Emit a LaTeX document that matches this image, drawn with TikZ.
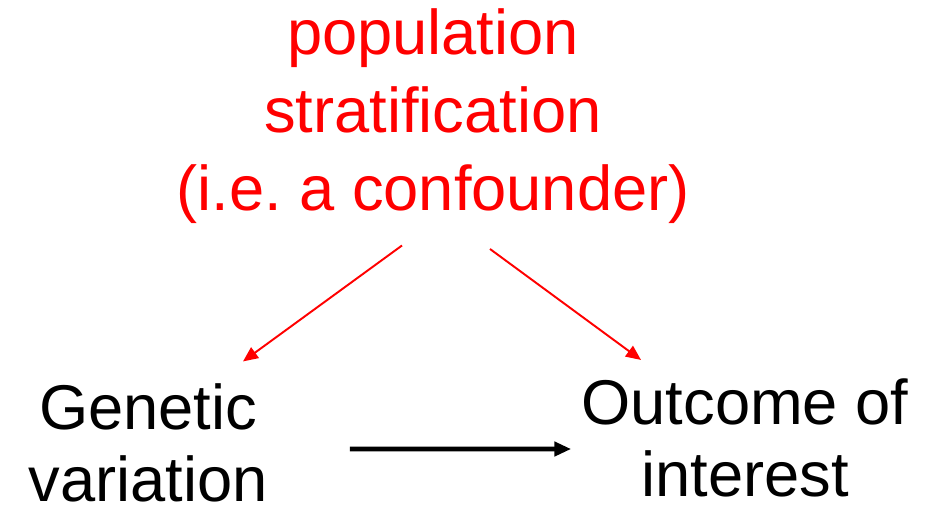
\documentclass[tikz,border=0pt]{standalone}
\usepackage{fontspec}
\setmainfont{Liberation Sans}
\usetikzlibrary{arrows.meta, positioning}
\definecolor{ConfRed}{HTML}{FF0000}
\tikzset{
  lbl/.style={align=center, inner sep=0pt, font=\fontsize{36}{41}\selectfont},
  confbox/.style={align=center, inner sep=0pt, text=ConfRed,
    font=\fontsize{36}{44.2}\selectfont},
  rArr/.style={-{Triangle[length=8.5pt, width=7.4pt]}, line width=1.1pt, color=ConfRed},
  kArr/.style={-{Triangle[length=9.6pt, width=8pt]}, line width=2.8pt, color=black},
}
\frenchspacing

\begin{document}
\begin{tikzpicture}[x=0.02cm, y=-0.02cm]
\useasboundingbox (0,0) rectangle (940,512);

% Confounder on top, the two variables below
\node[confbox] (conf) at (433,116) {population\\stratification\\(i.e. a confounder)};
\node[lbl] (gen) at (148,443) {Genetic\\variation};
\node[lbl] (out) at (745,437.5) {Outcome of\\interest};

% Arrows
\draw[rArr] ([shift={(-31,22)}]conf.south) -- ([shift={(95,-22)}]gen.north);
\draw[rArr] ([shift={(57,25.5)}]conf.south) -- ([shift={(-104,-18)}]out.north);
\draw[kArr] ([shift={(82,6)}]gen.east) -- ([shift={(-10,11.5)}]out.west);

\end{tikzpicture}
\end{document}
